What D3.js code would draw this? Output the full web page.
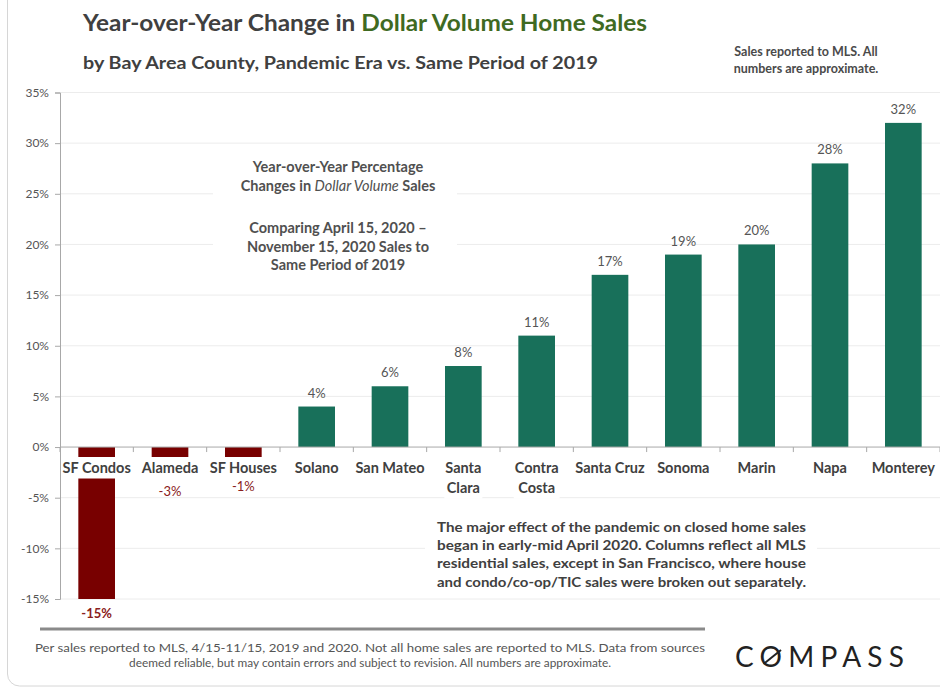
<!DOCTYPE html>
<html>
<head>
<meta charset="utf-8">
<script src="https://cdn.jsdelivr.net/npm/d3@7"></script>
<style>
  html, body { margin: 0; padding: 0; background: #fff; }
  svg { display: block; font-family: Lato, "Open Sans", sans-serif; }
</style>
</head>
<body>
<svg id="chart" width="940" height="689"></svg>
<script>
// ---- data ----
const categories = ["SF Condos", "Alameda", "SF Houses", "Solano", "San Mateo", "Santa Clara",
  "Contra Costa", "Santa Cruz", "Sonoma", "Marin", "Napa", "Monterey"];
const values = [-15, -3, -1, 4, 6, 8, 11, 17, 19, 20, 28, 32];
const categoryLines = [["SF Condos"], ["Alameda"], ["SF Houses"], ["Solano"], ["San Mateo"],
  ["Santa", "Clara"], ["Contra", "Costa"], ["Santa Cruz"], ["Sonoma"], ["Marin"], ["Napa"], ["Monterey"]];
const yTicks = [-15, -10, -5, 0, 5, 10, 15, 20, 25, 30, 35];
const titleParts = ["Year-over-Year Change in ", "Dollar Volume Home Sales"];
const subtitle = "by Bay Area County, Pandemic Era vs. Same Period of 2019";
const noteLines = ["Sales reported to MLS. All", "numbers are approximate."];
const centerNote = ["Year-over-Year Percentage", "Comparing April 15, 2020 \u2013", "November 15, 2020 Sales to", "Same Period of 2019"];
const effectNote = ["The major effect of the pandemic on closed home sales",
  "began in early-mid April 2020. Columns reflect all MLS",
  "residential sales, except in San Francisco, where house",
  "and condo/co-op/TIC sales were broken out separately."];
const footerLines = ["Per sales reported to MLS, 4/15-11/15, 2019 and 2020. Not all home sales are reported to MLS. Data from sources",
  "deemed reliable, but may contain errors and subject to revision. All numbers are approximate."];

const data = categories.map((c, i) => ({ cat: c, value: values[i], lines: categoryLines[i] }));

const svg = d3.select("#chart");
const GREEN = "#18705a", RED = "#780000", GRID = "#ececec", AXIS = "#a8a8a8";

// card border
svg.append("rect").attr("x", 7.5).attr("y", -20).attr("width", 960).attr("height", 706)
  .attr("rx", 12).attr("fill", "none").attr("stroke", "#d6d6d6");

const x = d3.scaleBand().domain(categories).range([60, 940]).paddingInner(0.5).paddingOuter(0.25);
const y = d3.scaleLinear().domain([-15, 35]).range([599, 92.5]);

// gridlines
svg.append("g").selectAll("line").data(yTicks.filter(d => d !== 0)).join("line")
  .attr("x1", 60).attr("x2", 940).attr("y1", d => y(d)).attr("y2", d => y(d))
  .attr("stroke", GRID).attr("stroke-width", 1);

// y axis
const yAxis = svg.append("g").attr("transform", "translate(60,0)")
  .call(d3.axisLeft(y).tickValues(yTicks).tickFormat(d => d + "%").tickSize(5).tickPadding(6));
yAxis.select(".domain").attr("stroke", AXIS);
yAxis.selectAll(".tick line").attr("stroke", AXIS);
yAxis.selectAll(".tick text").attr("fill", "#555").style("font-size", "12px").style("font-family", "Lato, sans-serif");

// annotation white boxes
svg.append("rect").attr("x", 213).attr("y", 150).attr("width", 244).attr("height", 130).attr("fill", "#fff");
svg.append("rect").attr("x", 425).attr("y", 512).attr("width", 392).attr("height", 84).attr("fill", "#fff");

// bars
svg.append("g").selectAll("rect").data(data).join("rect")
  .attr("x", d => x(d.cat))
  .attr("width", x.bandwidth())
  .attr("y", d => y(Math.max(0, d.value)))
  .attr("height", d => Math.abs(y(d.value) - y(0)))
  .attr("fill", d => d.value < 0 ? RED : GREEN);

// zero line and category ticks
svg.append("line").attr("x1", 60).attr("x2", 940).attr("y1", y(0)).attr("y2", y(0)).attr("stroke", AXIS);
const outer = (x.step() - x.bandwidth()) / 2;
svg.append("g").selectAll("line").data(categories.concat(["_end"])).join("line")
  .attr("x1", (d, i) => i < categories.length ? x(d) - outer : x(categories[i - 1]) + x.bandwidth() + outer)
  .attr("x2", (d, i) => i < categories.length ? x(d) - outer : x(categories[i - 1]) + x.bandwidth() + outer)
  .attr("y1", y(0)).attr("y2", y(0) + 5).attr("stroke", AXIS);

// category labels with white background
const labelG = svg.append("g");
data.forEach(d => {
  const cx = x(d.cat) + x.bandwidth() / 2;
  const t = labelG.append("text").attr("text-anchor", "middle")
    .attr("fill", "#404040").style("font-size", "14.5px").style("font-weight", "700");
  d.lines.forEach((ln, j) => t.append("tspan").attr("x", cx).attr("y", 473 + j * 20).text(ln));
  const bb = t.node().getBBox();
  labelG.insert("rect", "text").attr("x", bb.x - 1).attr("y", 457).attr("width", bb.width + 2)
    .attr("height", 21.5 + (d.lines.length - 1) * 20).attr("fill", "#fff");
});

// value labels
svg.append("g").selectAll("text").data(data).join("text")
  .attr("x", d => x(d.cat) + x.bandwidth() / 2)
  .attr("y", d => d.value >= 0 ? y(d.value) - 9 : Math.max(y(d.value) + 19, 491))
  .attr("text-anchor", "middle")
  .attr("fill", d => d.value < 0 ? "#8a2020" : "#555")
  .style("font-size", "13px")
  .style("font-weight", d => d.value <= -10 ? "700" : "400")
  .text(d => d.value + "%");

// title
const title = svg.append("text").attr("x", 83).attr("y", 31).style("font-size", "22px").style("font-weight", "700")
  .attr("textLength", 564).attr("lengthAdjust", "spacingAndGlyphs");
title.append("tspan").attr("fill", "#404040").text(titleParts[0]);
title.append("tspan").attr("fill", "#3f6a22").text(titleParts[1]);

svg.append("text").attr("x", 83).attr("y", 69).attr("fill", "#404040")
  .style("font-size", "16.5px").style("font-weight", "700")
  .attr("textLength", 515).attr("lengthAdjust", "spacingAndGlyphs").text(subtitle);

// top-right note
svg.append("g").selectAll("text").data(noteLines).join("text")
  .attr("x", 806).attr("y", (d, i) => 56 + i * 17).attr("text-anchor", "middle")
  .attr("fill", "#4a4a4a").style("font-size", "12.5px").style("font-weight", "700")
  .text(d => d);

// center note
const cn = svg.append("g").attr("fill", "#505050").style("font-size", "14.5px").style("font-weight", "700").attr("text-anchor", "middle");
cn.append("text").attr("x", 338).attr("y", 172).text(centerNote[0]);
const l2 = cn.append("text").attr("x", 338).attr("y", 191);
l2.append("tspan").text("Changes in ");
l2.append("tspan").style("font-style", "italic").style("font-weight", "400").text("Dollar Volume");
l2.append("tspan").text(" Sales");
centerNote.slice(1).forEach((ln, i) => cn.append("text").attr("x", 338).attr("y", 233 + i * 18.5).text(ln));

// effect note (justified)
svg.append("g").selectAll("text").data(effectNote).join("text")
  .attr("x", 437).attr("y", (d, i) => 532 + i * 18.2)
  .attr("fill", "#404040").style("font-size", "13.5px").style("font-weight", "700")
  .attr("textLength", 369).attr("lengthAdjust", "spacingAndGlyphs").text(d => d);

// footer
svg.append("line").attr("x1", 40).attr("x2", 705).attr("y1", 629).attr("y2", 629)
  .attr("stroke", "#8a8a8a").attr("stroke-width", 3);
svg.append("g").selectAll("text").data(footerLines).join("text")
  .attr("x", 370).attr("y", (d, i) => 652 + i * 15).attr("text-anchor", "middle")
  .attr("fill", "#555").style("font-size", "10.5px")
  .attr("textLength", (d, i) => i === 0 ? 670 : 482).attr("lengthAdjust", "spacingAndGlyphs").text(d => d);

// COMPASS logo
const logo = svg.append("text").attr("x", 735).attr("y", 667).attr("fill", "#222")
  .style("font-size", "28px").style("font-weight", "400").style("letter-spacing", "3px")
  .attr("textLength", 172).attr("lengthAdjust", "spacing").text("COMPASS");
const ln = logo.node();
const oStart = ln.getStartPositionOfChar(1), oEnd = ln.getEndPositionOfChar(1);
svg.append("line").attr("x1", oStart.x + 4).attr("y1", 667 - 3)
  .attr("x2", oEnd.x - 4).attr("y2", 667 - 17).attr("stroke", "#222").attr("stroke-width", 2);
</script>
</body>
</html>
